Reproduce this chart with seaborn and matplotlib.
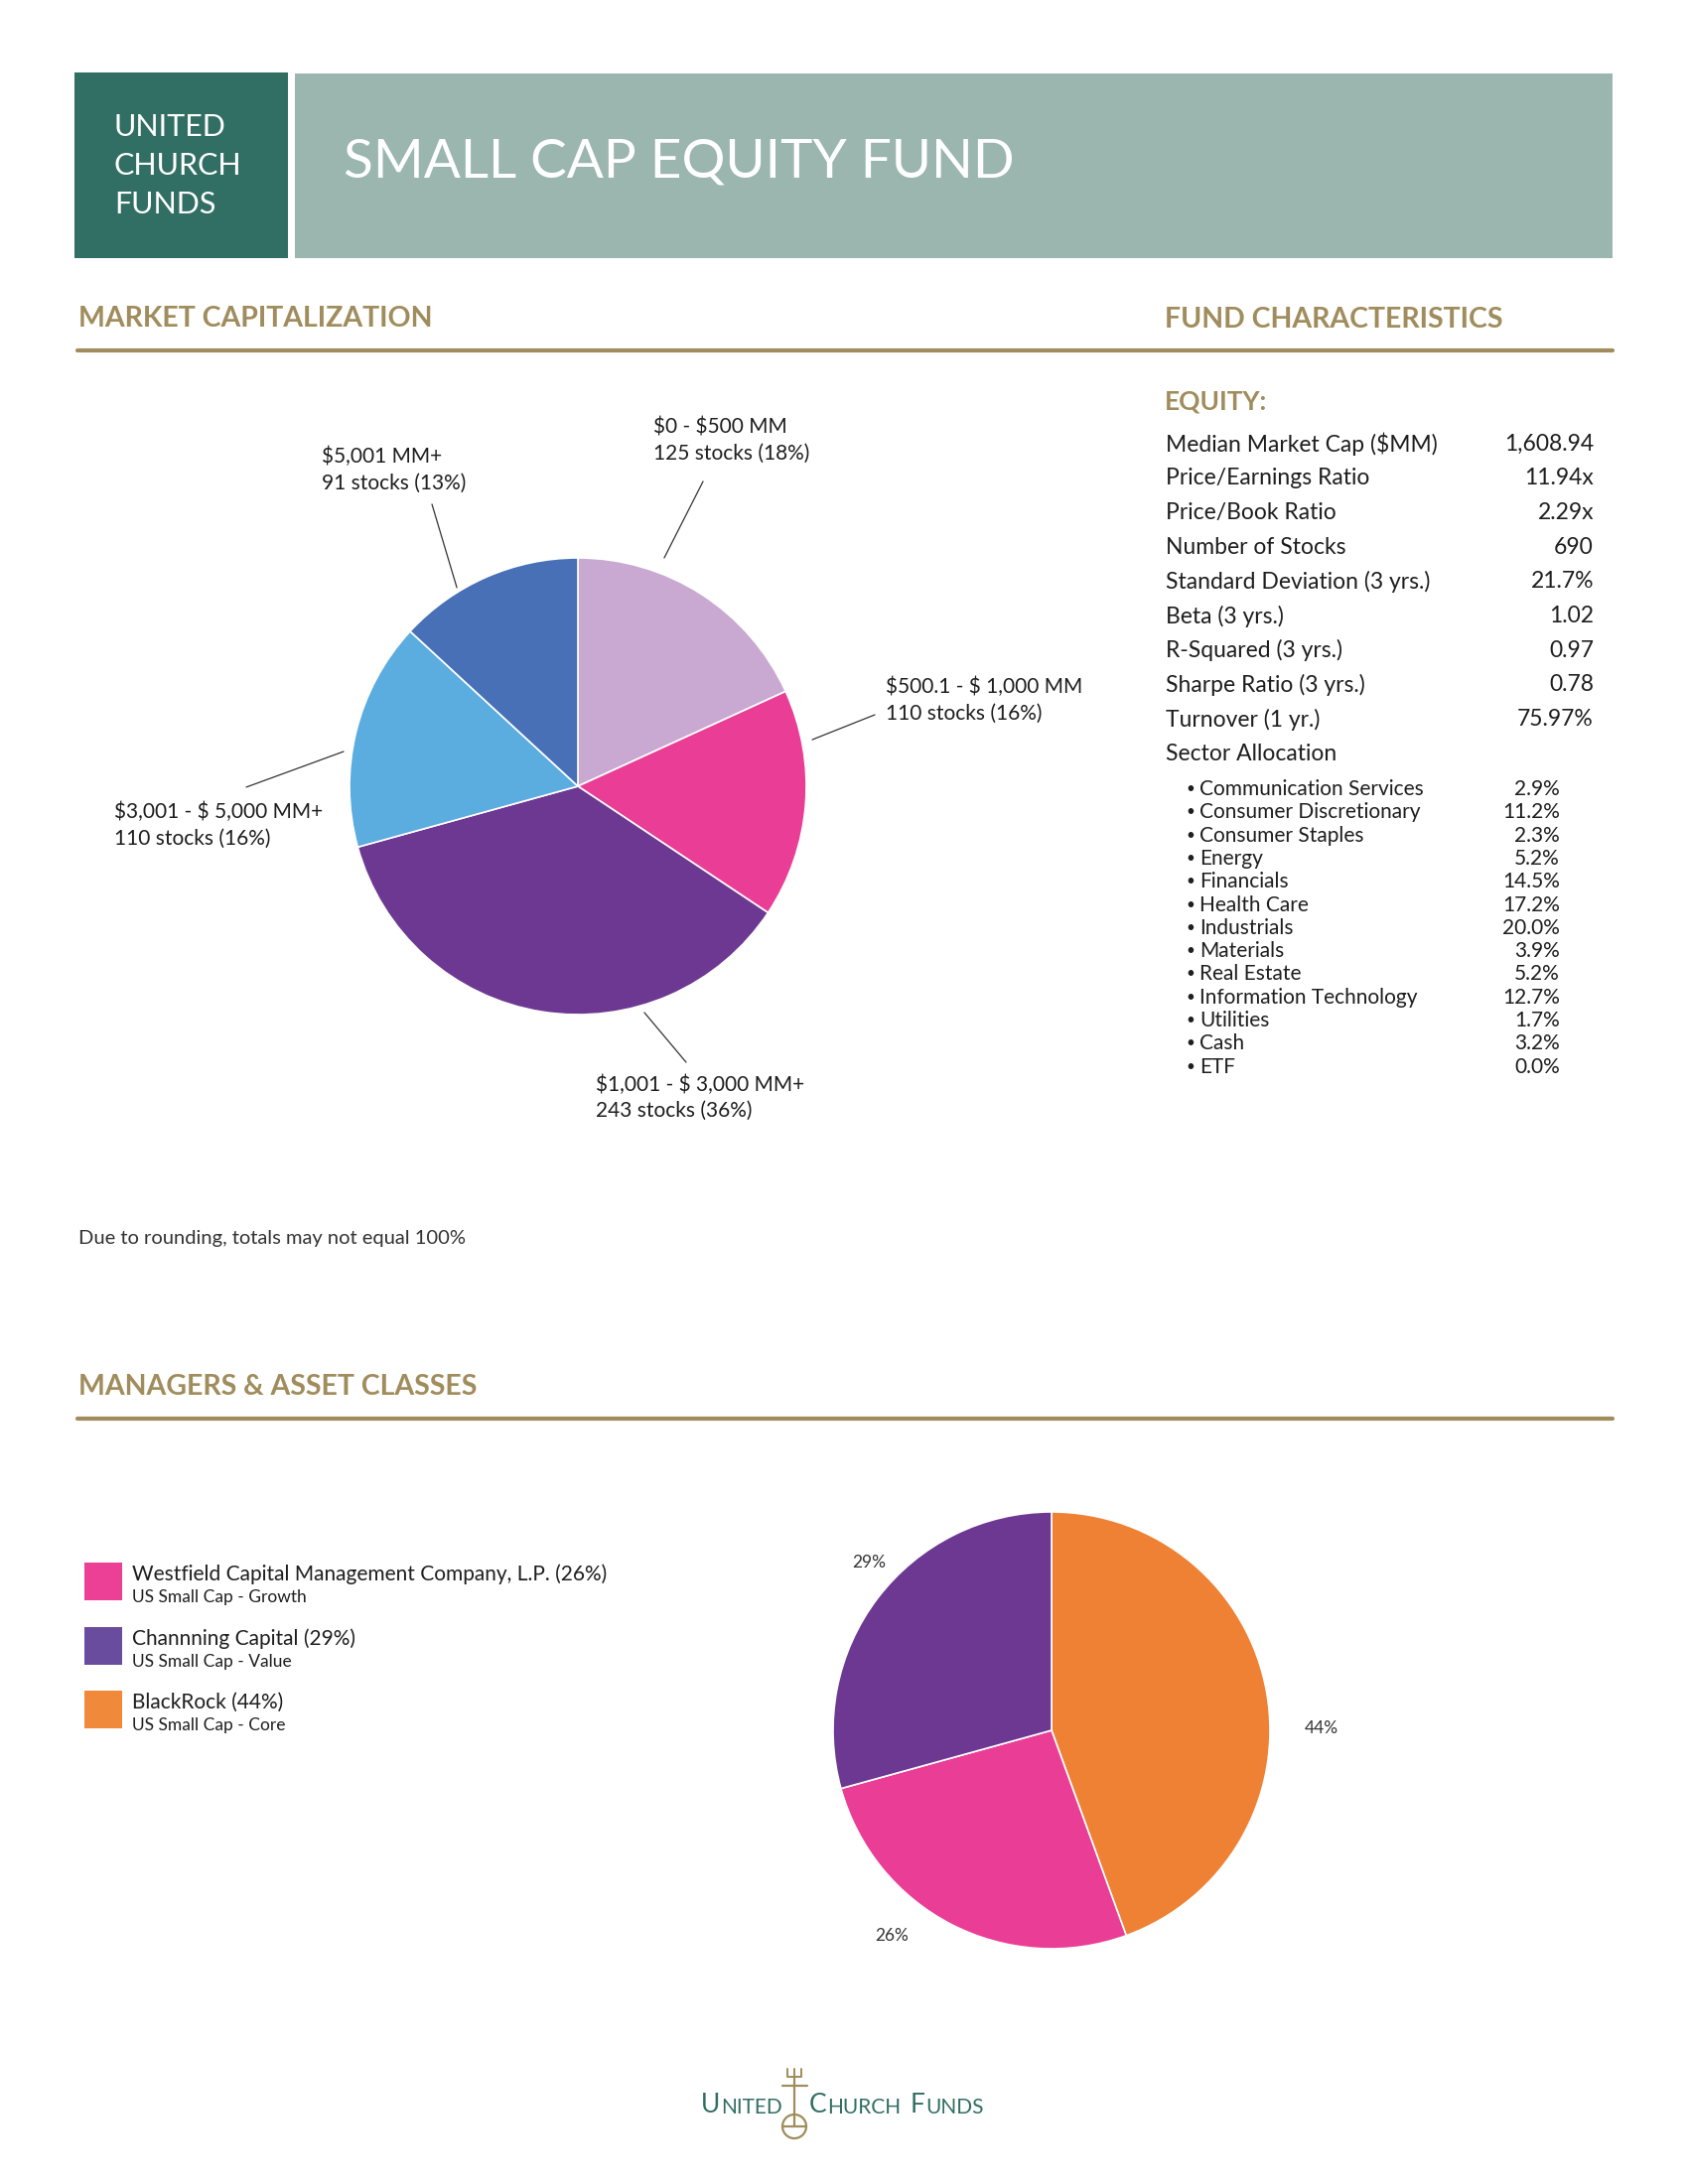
import matplotlib
matplotlib.use("Agg")
import matplotlib.pyplot as plt
import seaborn as sns
from matplotlib.patches import Rectangle, Circle

sns.set_theme(style="white")
plt.rcParams['font.family'] = ['Lato', 'DejaVu Sans']
plt.rcParams['text.parse_math'] = False   # labels contain "$"

# ---------------- data ----------------
cap_bands = ["$0 - $500 MM", "$500.1 - $ 1,000 MM", "$1,001 - $ 3,000 MM+",
             "$3,001 - $ 5,000 MM+", "$5,001 MM+"]
cap_stocks = [125, 110, 243, 110, 91]
cap_pct = [18, 16, 36, 16, 13]

equity_labels = ["Median Market Cap ($MM)", "Price/Earnings Ratio", "Price/Book Ratio",
                 "Number of Stocks", "Standard Deviation (3 yrs.)", "Beta (3 yrs.)",
                 "R-Squared (3 yrs.)", "Sharpe Ratio (3 yrs.)", "Turnover (1 yr.)"]
equity_values = ["1,608.94", "11.94x", "2.29x", "690", "21.7%", "1.02", "0.97", "0.78", "75.97%"]

sector_names = ["Communication Services", "Consumer Discretionary", "Consumer Staples", "Energy",
                "Financials", "Health Care", "Industrials", "Materials", "Real Estate",
                "Information Technology", "Utilities", "Cash", "ETF"]
sector_pct = [2.9, 11.2, 2.3, 5.2, 14.5, 17.2, 20.0, 3.9, 5.2, 12.7, 1.7, 3.2, 0.0]

managers = ["Westfield Capital Management Company, L.P.", "Channning Capital", "BlackRock"]
manager_class = ["US Small Cap - Growth", "US Small Cap - Value", "US Small Cap - Core"]
manager_pct = [26, 29, 44]
pie_order = [2, 0, 1]   # clockwise from 12 o'clock

# ---------------- colours ----------------
teal_dark = "#316e63"
teal_light = "#9ab6af"
gold = "#a08c5c"
ink = "#1e1e1e"
cap_colors = sns.color_palette(["#c9a9d1", "#ea3d95", "#6d3892", "#5badE0", "#4770b7"])
mgr_colors = sns.color_palette(["#ea3d95", "#6c3892", "#ef8134"])
mgr_legend_colors = sns.color_palette(["#ec3f96", "#6a4c9e", "#f08a3a"])

W, H = 1700, 2200
fig = plt.figure(figsize=(17, 22), dpi=100)
page = fig.add_axes([0, 0, 1, 1])
page.set_xlim(0, W)
page.set_ylim(H, 0)
page.axis("off")


def px_axes(x0, y0, x1, y1):
    return fig.add_axes([x0 / W, 1 - y1 / H, (x1 - x0) / W, (y1 - y0) / H])


# ---------------- header ----------------
page.add_patch(Rectangle((75, 73), 215, 187, color=teal_dark, lw=0))
page.add_patch(Rectangle((297, 74), 1327, 186, color=teal_light, lw=0))
for i, w in enumerate(["UNITED", "CHURCH", "FUNDS"]):
    page.text(115, 128 + i * 39, w, color="white", fontsize=22, va="center")
page.text(346, 163, "SMALL CAP EQUITY FUND", color="white", fontsize=39.5, va="center")

# ---------------- section headings ----------------
page.text(79, 321, "MARKET CAPITALIZATION", color=gold, fontsize=20.5, fontweight="bold", va="center")
page.text(1173, 322, "FUND CHARACTERISTICS", color=gold, fontsize=20.5, fontweight="bold", va="center")
page.plot([78, 1624], [353, 353], color=gold, lw=3)
page.text(79, 1397, "MANAGERS & ASSET CLASSES", color=gold, fontsize=20.5, fontweight="bold", va="center")
page.plot([78, 1624], [1429, 1429], color=gold, lw=3)

# ---------------- fund characteristics ----------------
page.text(1173, 404, "EQUITY:", color=gold, fontsize=19, fontweight="bold", va="center")
for i, (lab, val) in enumerate(zip(equity_labels, equity_values)):
    y = 447 + i * 34.7
    page.text(1174, y, lab, color=ink, fontsize=16.5, va="center")
    page.text(1605, y, val, color=ink, fontsize=16.5, va="center", ha="right")
page.text(1174, 447 + 9 * 34.7, "Sector Allocation", color=ink, fontsize=16.5, va="center")
for i, (name, p) in enumerate(zip(sector_names, sector_pct)):
    y = 795 + i * 23.3
    page.text(1194, y, "\u2022", color=ink, fontsize=11, va="center")
    page.text(1208, y, name, color=ink, fontsize=15, va="center")
    page.text(1571, y, f"{p:.1f}%", color=ink, fontsize=15, va="center", ha="right")

# ---------------- market cap pie ----------------
ax1 = px_axes(76, 378, 1088, 1206)
ax1.pie(cap_pct, colors=cap_colors, startangle=90, counterclock=False, radius=1,
        wedgeprops=dict(edgecolor="white", linewidth=1.2))
ax1.set_xlim(-2.2, 2.2)
ax1.set_ylim(-1.8, 1.8)
ax1.set_aspect("auto")
ax1.axis("off")

# leader lines and label anchors (pie units, radius = 1)
leaders = [((0.378, 1.0), (0.548, 1.335)),
           ((1.026, 0.204), (1.30, 0.313)),
           ((0.291, -0.991), (0.474, -1.209)),
           ((-1.026, 0.152), (-1.452, -0.004)),
           ((-0.530, 0.870), (-0.639, 1.235))]
label_pos = [(0.33, 1.513), (1.348, 0.378), (0.078, -1.365), (-2.03, -0.17), (-1.122, 1.387)]
for (a, b), (lx, ly), band, n, p in zip(leaders, label_pos, cap_bands, cap_stocks, cap_pct):
    ax1.plot([a[0], b[0]], [a[1], b[1]], color="#333333", lw=0.9)
    ax1.text(lx, ly, f"{band}\n{n} stocks ({p}%)", fontsize=15, color=ink,
             va="center", ha="left", linespacing=1.4)

page.text(79, 1247, "Due to rounding, totals may not equal 100%", color="#333333",
          fontsize=14.5, va="center")

# ---------------- managers pie ----------------
ax2 = px_axes(619, 1413, 1499, 2073)
ax2.pie([manager_pct[i] for i in pie_order], colors=[mgr_colors[i] for i in pie_order],
        startangle=90, counterclock=False, radius=1,
        wedgeprops=dict(edgecolor="white", linewidth=1.2))
ax2.set_xlim(-2, 2)
ax2.set_ylim(-1.5, 1.5)
ax2.set_aspect("auto")
ax2.axis("off")
pct_pos = [(-0.732, -0.941), (-0.836, 0.768), (1.236, 0.009)]
for (x, y), p in zip(pct_pos, manager_pct):
    ax2.text(x, y, f"{p}%", fontsize=12.5, color="#333333", ha="center", va="center")

# legend
for i, (m, c, p) in enumerate(zip(managers, manager_class, manager_pct)):
    top = 1574 + i * 64.5
    page.add_patch(Rectangle((85, top), 38, 38, color=mgr_legend_colors[i], lw=0))
    page.text(133, top + 12, f"{m} ({p}%)", fontsize=15, color=ink, va="center")
    page.text(133, top + 35, c, fontsize=12.5, color=ink, va="center")

# ---------------- footer logo ----------------
def small_caps(x, y, parts):
    prev = None
    for txt, size, gap in parts:
        if prev is None:
            prev = page.text(x, y, txt, fontsize=size, color=teal_dark, va="bottom")
        else:
            prev = page.annotate(txt, xy=(1, 0), xycoords=prev, xytext=(gap, 0),
                                 textcoords="offset pixels", fontsize=size,
                                 color=teal_dark, va="bottom")
    return prev

small_caps(706, 2133, [("U", 19, 0), ("NITED", 15, 1)])
small_caps(815, 2133, [("C", 19, 0), ("HURCH", 15, 1), ("F", 19, 9), ("UNDS", 15, 1)])
page.plot([800, 800], [2092, 2142], color=gold, lw=1.6)
page.plot([788, 813], [2101, 2101], color=gold, lw=1.6)
page.add_patch(Circle((800, 2142), 12, fill=False, edgecolor=gold, lw=1.6))
page.plot([788, 812], [2142, 2142], color=gold, lw=1.6)
page.plot([793, 793, 807, 807], [2084, 2092, 2092, 2084], color=gold, lw=1.4)
page.plot([800, 800], [2084, 2092], color=gold, lw=1.4)

fig.savefig("out.png", dpi=100)
